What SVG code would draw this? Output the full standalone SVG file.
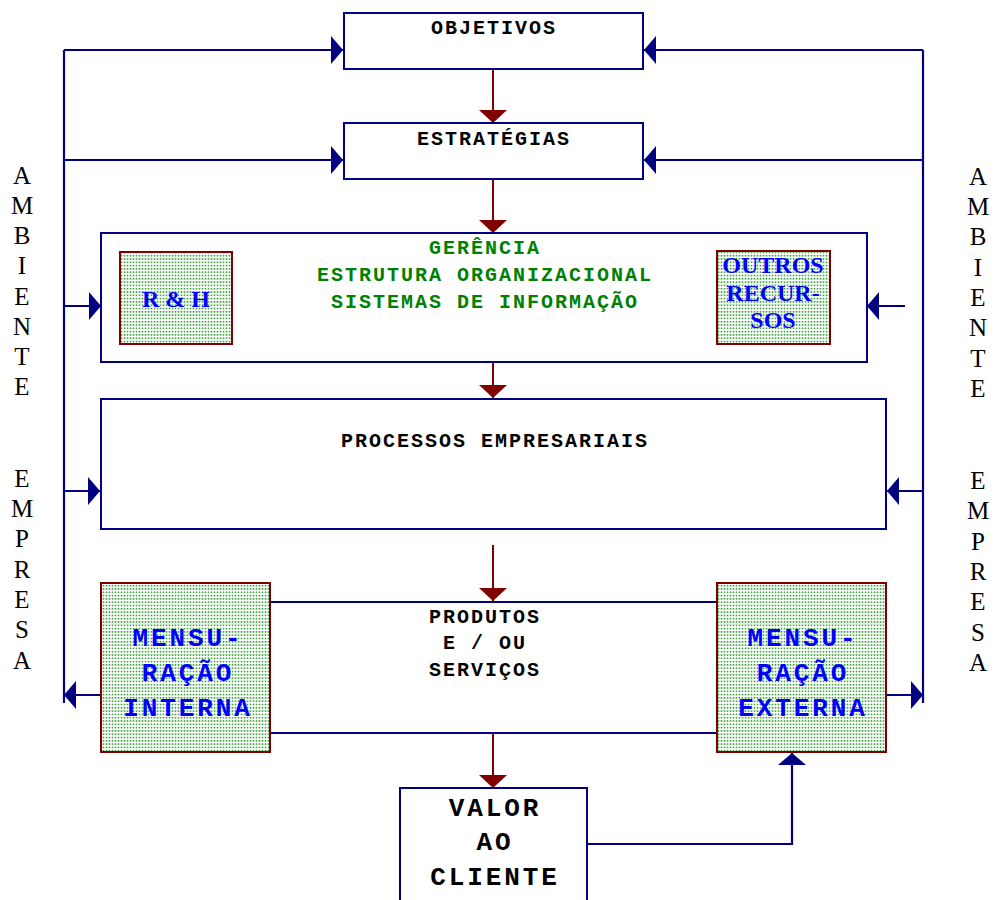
<svg xmlns="http://www.w3.org/2000/svg" width="996" height="900" viewBox="0 0 996 900">
<style>
.box{fill:#fff;stroke:#000080;stroke-width:2}
.pat{fill:url(#dots);stroke:#800000;stroke-width:2}
.bl{fill:none;stroke:#000080;stroke-width:2.2}
.rd{fill:none;stroke:#800000;stroke-width:2}
.bluehead{marker-end:url(#ab)}
.redhead{marker-end:url(#ar)}
.t{font-family:"Liberation Mono","Courier New",monospace;font-weight:bold;font-size:20px;letter-spacing:2px;text-anchor:middle;fill:#000}
.g{fill:#008000}
.big{font-size:26px;letter-spacing:2.9px}
.bluet{fill:#0000ff}
.tr{font-family:"Liberation Serif","Times New Roman",serif;font-weight:bold;font-size:24px;fill:#0000ff;text-anchor:middle}
.side{font-family:"Liberation Serif","Times New Roman",serif;font-size:25px;fill:#000;text-anchor:middle}
</style>
<defs>
<pattern id="dots" patternUnits="userSpaceOnUse" width="3" height="3.3">
<rect width="3" height="3.3" fill="#fff"/>
<rect x="0.7" y="0.8" width="1.6" height="1.6" fill="#3aa03a"/>
</pattern>
<marker id="ab" viewBox="0 0 12 28" refX="12" refY="14" markerWidth="12" markerHeight="28" markerUnits="userSpaceOnUse" orient="auto">
<path d="M0,0 L12,14 L0,28 Z" fill="#000080"/>
</marker>
<marker id="ar" viewBox="0 0 13 28" refX="13" refY="14" markerWidth="13" markerHeight="28" markerUnits="userSpaceOnUse" orient="auto">
<path d="M0,0 L13,14 L0,28 Z" fill="#800000"/>
</marker>
</defs>

<g id="connectors">
<path class="bl" d="M64,50 V703"/>
<path class="bl" d="M923,50 V703"/>
<path class="bl bluehead" d="M64,50 H343"/>
<path class="bl bluehead" d="M923,50 H644"/>
<path class="bl bluehead" d="M64,160 H343"/>
<path class="bl bluehead" d="M923,160 H644"/>
<path class="bl bluehead" d="M64,306 H101"/>
<path class="bl bluehead" d="M905,306 H867"/>
<path class="bl bluehead" d="M64,491 H100"/>
<path class="bl bluehead" d="M923,491 H887"/>
<path class="bl bluehead" d="M101,695 H64"/>
<path class="bl bluehead" d="M886,695 H923"/>
<path class="bl" d="M270,602 H717"/>
<path class="bl" d="M270,733 H717"/>
<path class="bl bluehead" d="M587,844 H792 V753"/>
<path class="rd redhead" d="M493,68 V123"/>
<path class="rd redhead" d="M493,179 V233"/>
<path class="rd redhead" d="M493,360 V398"/>
<path class="rd redhead" d="M493,545 V601"/>
<path class="rd redhead" d="M493,733 V788"/>
<path class="rd redhead" d="M400,251 H251"/>
<path class="rd redhead" d="M289,288 H251"/>
<path class="rd redhead" d="M307,307 H251"/>
<path class="rd redhead" d="M549,251 H699"/>
<path class="rd redhead" d="M661,288 H699"/>
<path class="rd redhead" d="M642,307 H699"/>
</g>

<g id="objetivos">
<rect class="box" x="344" y="13" width="299" height="56"/>
<text class="t" x="494" y="34">OBJETIVOS</text>
</g>
<g id="estrategias">
<rect class="box" x="344" y="123" width="299" height="56"/>
<text class="t" x="494" y="145">ESTRATÉGIAS</text>
</g>
<g id="gerencia">
<rect class="box" x="101" y="233" width="766" height="129" fill="none"/>
<text class="t g" x="485" y="254">GERÊNCIA</text>
<text class="t g" x="485" y="281">ESTRUTURA ORGANIZACIONAL</text>
<text class="t g" x="485" y="308">SISTEMAS DE INFORMAÇÃO</text>
</g>
<g id="rh">
<rect class="pat" x="120" y="252" width="112" height="92"/>
<text class="tr" x="176" y="307">R &amp; H</text>
</g>
<g id="outros">
<rect class="pat" x="717" y="251" width="113" height="93"/>
<text class="tr" x="773" y="273">OUTROS</text>
<text class="tr" x="773" y="301">RECUR-</text>
<text class="tr" x="773" y="328">SOS</text>
</g>
<g id="processos">
<rect class="box" x="101" y="399" width="785" height="130"/>
<text class="t" x="495" y="447">PROCESSOS EMPRESARIAIS</text>
</g>
<g id="produtos">
<text class="t" x="485" y="623">PRODUTOS</text>
<text class="t" x="485" y="649">E / OU</text>
<text class="t" x="485" y="676">SERVIÇOS</text>
</g>
<g id="mens-interna">
<rect class="pat" x="101" y="583" width="169" height="169"/>
<text class="t big bluet" x="188" y="646">MENSU-</text>
<text class="t big bluet" x="188" y="681">RAÇÃO</text>
<text class="t big bluet" x="188" y="716">INTERNA</text>
</g>
<g id="mens-externa">
<rect class="pat" x="717" y="583" width="169" height="169"/>
<text class="t big bluet" x="803" y="646">MENSU-</text>
<text class="t big bluet" x="803" y="681">RAÇÃO</text>
<text class="t big bluet" x="803" y="716">EXTERNA</text>
</g>
<g id="valor">
<rect class="box" x="400" y="788" width="187" height="120"/>
<text class="t big" x="495" y="816">VALOR</text>
<text class="t big" x="495" y="850">AO</text>
<text class="t big" x="495" y="885">CLIENTE</text>
</g>
<g id="ambiente-empresa-esq">
<text class="side" x="22" y="184">A</text>
<text class="side" x="22" y="214">M</text>
<text class="side" x="22" y="244">B</text>
<text class="side" x="22" y="274">I</text>
<text class="side" x="22" y="305">E</text>
<text class="side" x="22" y="335">N</text>
<text class="side" x="22" y="365">T</text>
<text class="side" x="22" y="395">E</text>
<text class="side" x="22" y="487">E</text>
<text class="side" x="22" y="517">M</text>
<text class="side" x="22" y="547">P</text>
<text class="side" x="22" y="578">R</text>
<text class="side" x="22" y="608">E</text>
<text class="side" x="22" y="638">S</text>
<text class="side" x="22" y="669">A</text>
</g>
<g id="ambiente-empresa-dir">
<text class="side" x="978" y="185">A</text>
<text class="side" x="978" y="215">M</text>
<text class="side" x="978" y="245">B</text>
<text class="side" x="978" y="276">I</text>
<text class="side" x="978" y="306">E</text>
<text class="side" x="978" y="336">N</text>
<text class="side" x="978" y="367">T</text>
<text class="side" x="978" y="397">E</text>
<text class="side" x="978" y="489">E</text>
<text class="side" x="978" y="519">M</text>
<text class="side" x="978" y="550">P</text>
<text class="side" x="978" y="580">R</text>
<text class="side" x="978" y="610">E</text>
<text class="side" x="978" y="641">S</text>
<text class="side" x="978" y="671">A</text>
</g>
</svg>
